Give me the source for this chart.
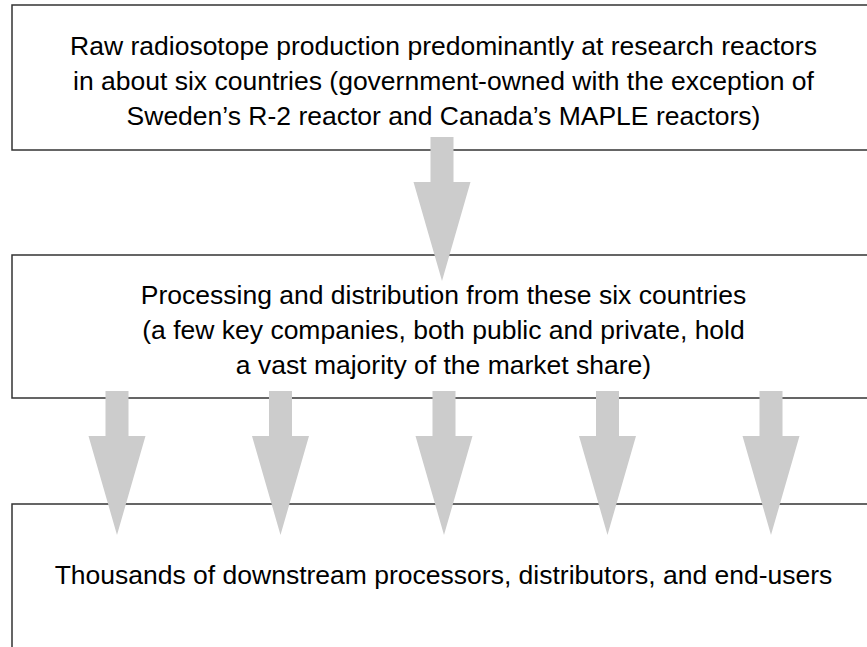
<!DOCTYPE html>
<html>
<head>
<meta charset="utf-8">
<script src="https://cdn.jsdelivr.net/npm/d3@7"></script>
<style>
  html, body { margin: 0; padding: 0; background: #fff; }
  svg { display: block; }
</style>
</head>
<body>
<div id="container"></div>
<script>
const WIDTH = 867;
const HEIGHT = 647;

// stage text, one array of lines per box
const stageLines = [
  [
    "Raw radiosotope production predominantly at research reactors",
    "in about six countries (government-owned with the exception of",
    "Sweden\u2019s R-2 reactor and Canada\u2019s MAPLE reactors)"
  ],
  [
    "Processing and distribution from these six countries",
    "(a few key companies, both public and private, hold",
    "a vast majority of the market share)"
  ],
  ["Thousands of downstream processors, distributors, and end-users"]
];
// number of arrows leaving each stage
const arrowCounts = [1, 5];

const boxTop = [5, 255, 504];
const boxBottom = [150, 398, 680];
const BOX_LEFT = 12;
const BOX_RIGHT = 876;
const LINE_H = 35;

const svg = d3
  .select("div#container")
  .append("svg")
  .attr("width", WIDTH)
  .attr("height", HEIGHT);

const boxes = svg
  .selectAll("g.stage")
  .data(stageLines)
  .enter()
  .append("g")
  .attr("class", "stage");

boxes
  .append("rect")
  .attr("x", BOX_LEFT)
  .attr("y", (_, i) => boxTop[i])
  .attr("width", BOX_RIGHT - BOX_LEFT)
  .attr("height", (_, i) => boxBottom[i] - boxTop[i])
  .attr("fill", "#fff")
  .attr("stroke", "#333")
  .attr("stroke-width", 1.5);

// baseline of the middle line in each box
const textCenter = [90, 339, 584];

boxes
  .append("text")
  .attr("text-anchor", "middle")
  .attr("font-family", "'Liberation Sans', Arial, Helvetica, sans-serif")
  .attr("font-size", 26.5)
  .attr("fill", "#000")
  .selectAll("tspan")
  .data((d, i) => d.map((t, j) => ({ t, y: textCenter[i] + (j - (d.length - 1) / 2) * LINE_H })))
  .enter()
  .append("tspan")
  .attr("x", 443.5)
  .attr("y", (d) => d.y)
  .text((d) => d.t);

// arrows
const SHAFT_W = 23, HEAD_W = 57, SHAFT_L = 45, HEAD_L = 99;
const arrowTop = [137, 391];

function arrowPath(cx, top) {
  const p = d3.path();
  p.moveTo(cx - SHAFT_W / 2, top);
  p.lineTo(cx + SHAFT_W / 2, top);
  p.lineTo(cx + SHAFT_W / 2, top + SHAFT_L);
  p.lineTo(cx + HEAD_W / 2, top + SHAFT_L);
  p.lineTo(cx, top + SHAFT_L + HEAD_L);
  p.lineTo(cx - HEAD_W / 2, top + SHAFT_L);
  p.lineTo(cx - SHAFT_W / 2, top + SHAFT_L);
  p.closePath();
  return p.toString();
}

arrowCounts.forEach((n, row) => {
  const x = d3
    .scalePoint()
    .domain(d3.range(n))
    .range(n === 1 ? [442, 442] : [117, 771]);
  svg
    .append("g")
    .selectAll("path")
    .data(d3.range(n))
    .enter()
    .append("path")
    .attr("d", (d) => arrowPath(x(d), arrowTop[row]))
    .attr("fill", "#ccc");
});
</script>
</body>
</html>
